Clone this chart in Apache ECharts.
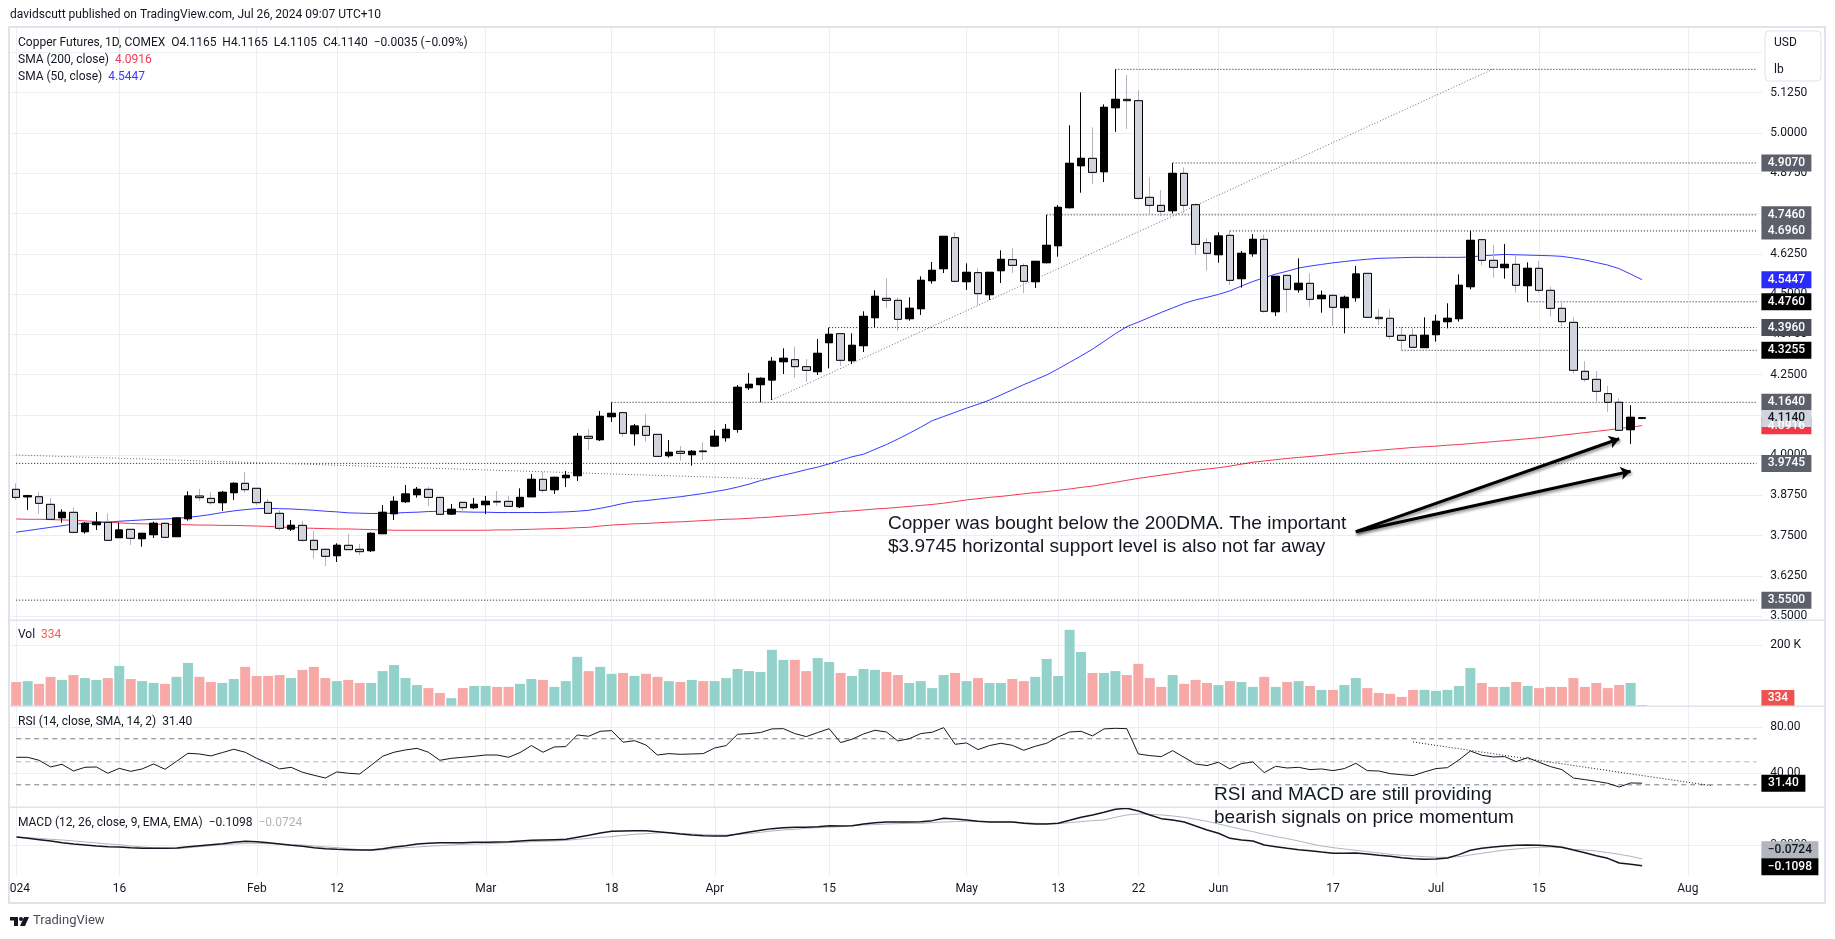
<!DOCTYPE html>
<html>
<head>
<meta charset="utf-8">
<style>html,body{margin:0;padding:0;background:#fff}#chart{width:1835px;height:939px}</style>
<script src="https://cdn.jsdelivr.net/npm/echarts@6/dist/echarts.min.js"></script>
</head>
<body>
<div id="chart"></div>
<script>
const dates = ['01-02','01-03','01-04','01-05','01-08','01-09','01-10','01-11','01-12','01-16','01-17','01-18','01-19','01-22','01-23','01-24','01-25','01-26','01-29','01-30','01-31',
  '02-01','02-02','02-05','02-06','02-07','02-08','02-09','02-12','02-13','02-14','02-15','02-16','02-20','02-21','02-22','02-23','02-26','02-27','02-28','02-29',
  '03-01','03-04','03-05','03-06','03-07','03-08','03-11','03-12','03-13','03-14','03-15','03-18','03-19','03-20','03-21','03-22','03-25','03-26','03-27','03-28',
  '04-01','04-02','04-03','04-04','04-05','04-08','04-09','04-10','04-11','04-12','04-15','04-16','04-17','04-18','04-19','04-22','04-23','04-24','04-25','04-26','04-29','04-30',
  '05-01','05-02','05-03','05-06','05-07','05-08','05-09','05-10','05-13','05-14','05-15','05-16','05-17','05-20','05-21','05-22','05-23','05-24','05-28','05-29','05-30','05-31',
  '06-03','06-04','06-05','06-06','06-07','06-10','06-11','06-12','06-13','06-14','06-17','06-18','06-20','06-21','06-24','06-25','06-26','06-27','06-28',
  '07-01','07-02','07-03','07-05','07-08','07-09','07-10','07-11','07-12','07-15','07-16','07-17','07-18','07-19','07-22','07-23','07-24','07-25','07-26','07-29','07-30','07-31',
  '08-01','08-02','08-05','08-06','08-07','08-08','08-09']
const timeTicks = {'01-02':'2024','01-16':'16','02-01':'Feb','02-12':'12','03-01':'Mar','03-18':'18','04-01':'Apr','04-15':'15','05-01':'May','05-13':'13','05-22':'22','06-03':'Jun','06-17':'17','07-01':'Jul','07-15':'15','08-01':'Aug'}

const open = [3.894,3.871,3.871,3.8474,3.806,3.8226,3.7626,3.7843,3.7915,3.744,
  3.7698,3.7409,3.7533,3.7885,3.7471,3.8029,3.8733,3.866,3.8526,3.8836,
  3.9126,3.8971,3.8536,3.8195,3.7709,3.7822,3.7357,3.7078,3.6881,3.7202,
  3.7078,3.7036,3.7564,3.8184,3.8557,3.8774,3.894,3.869,3.8174,3.8536,
  3.8371,3.8464,3.8567,3.8567,3.8402,3.871,3.925,3.8929,3.9302,3.9364,
  4.0585,4.0481,4.1195,4.132,4.0667,4.0895,4.0647,3.9985,4.0119,4.0016,
  4.013,4.0285,4.0543,4.0802,4.2095,4.2189,4.2333,4.2902,4.2964,4.2747,
  4.2592,4.3492,4.3771,4.2933,4.3399,4.4268,4.4868,4.4806,4.4237,4.4547,
  4.5416,4.5789,4.6751,4.5385,4.5665,4.4982,4.5727,4.6068,4.5882,4.5385,
  4.5975,4.6502,4.7682,4.8985,4.9213,4.8799,5.0785,5.1044,5.1003,4.8003,
  4.7754,4.7589,4.8747,4.7775,4.6596,4.6223,4.6823,4.5479,4.6254,4.6699,
  4.4454,4.5582,4.5137,4.5334,4.4858,4.4961,4.4579,4.4889,4.5644,4.4279,
  4.4248,4.372,4.372,4.3338,4.3741,4.4144,4.4237,4.523,4.6689,4.6048,
  4.582,4.5923,4.5261,4.5799,4.5117,4.4558,4.4123,4.2603,4.2354,4.191,
  4.1641,4.0792,4.1165]
const close = [3.869,3.874,3.8505,3.8009,3.8226,3.7605,3.7885,3.7915,3.7357,3.7678,
  3.7419,3.7574,3.7885,3.745,3.805,3.8733,3.8681,3.8526,3.8847,3.9126,
  3.8929,3.8526,3.8195,3.7729,3.7822,3.7357,3.7067,3.686,3.7202,3.7067,
  3.7005,3.7574,3.8226,3.8567,3.8795,3.894,3.869,3.8164,3.8319,3.8371,
  3.8474,3.8567,3.8547,3.8412,3.869,3.925,3.8909,3.9312,3.9374,4.0585,
  4.0523,4.1205,4.1298,4.0678,4.0905,4.0616,3.9964,4.0088,4.0057,4.0119,
  4.0109,4.0585,4.0802,4.2106,4.2199,4.2385,4.2913,4.3006,4.2747,4.2633,
  4.3161,4.3751,4.2944,4.3409,4.4309,4.493,4.4806,4.4216,4.4558,4.5427,
  4.5737,4.6792,4.5396,4.5675,4.5013,4.5675,4.6078,4.5892,4.5396,4.6016,
  4.6513,4.7692,4.9058,4.9213,4.8778,5.0796,5.1044,5.1003,4.7971,4.7754,
  4.7568,4.8747,4.7754,4.6544,4.6265,4.6803,4.5427,4.6265,4.6699,4.4465,
  4.5551,4.5148,4.5334,4.4837,4.4961,4.4589,4.4899,4.5623,4.4279,4.4237,
  4.3689,4.3565,4.3348,4.372,4.4154,4.4248,4.5272,4.6668,4.6048,4.583,
  4.5923,4.5272,4.5799,4.5117,4.4558,4.4144,4.2634,4.2354,4.1982,4.1641,
  4.0772,4.1175,4.114]
const high = [3.9126,3.877,3.8857,3.8671,3.8319,3.8381,3.7926,3.8236,3.8195,3.7905,
  3.7698,3.7574,3.7936,3.7926,3.8071,3.8878,3.895,3.8857,3.8888,3.9157,
  3.9478,3.8971,3.864,3.8298,3.7988,3.7957,3.7647,3.7109,3.7264,3.7553,
  3.7243,3.7605,3.8454,3.8722,3.9074,3.9012,3.9023,3.869,3.8484,3.8536,
  3.8671,3.8733,3.8888,3.8733,3.8971,3.9416,3.9488,3.9333,3.9509,4.0688,
  4.0812,4.1371,4.164,4.135,4.0968,4.1278,4.0647,4.0471,4.0285,4.0161,
  4.0399,4.0781,4.0968,4.2178,4.2551,4.2416,4.3047,4.3316,4.3368,4.2985,
  4.3606,4.396,4.3771,4.3782,4.4465,4.5116,4.5489,4.4899,4.4899,4.5551,
  4.5996,4.6792,4.6916,4.5954,4.5799,4.5675,4.6358,4.643,4.5954,4.6016,
  4.746,4.7765,5.0237,5.1261,5.0175,5.0889,5.1975,5.1799,5.1334,4.8623,
  4.823,4.907,4.8934,4.7816,4.673,4.6917,4.6968,4.6337,4.6865,4.6844,
  4.5551,4.5582,4.611,4.5644,4.5106,4.4961,4.4951,4.5872,4.5644,4.4527,
  4.4527,4.3989,4.3937,4.4279,4.4361,4.4713,4.5613,4.6968,4.6689,4.6523,
  4.6554,4.6213,4.5985,4.6027,4.523,4.4796,4.4279,4.2913,4.2613,4.2147,
  4.1765,4.1548,4.1165]
const low = [3.861,3.83,3.8174,3.7988,3.7905,3.7574,3.7564,3.7678,3.7347,3.7429,
  3.7212,3.716,3.7429,3.744,3.746,3.7967,3.8578,3.8464,3.8267,3.861,
  3.8836,3.8454,3.8174,3.7657,3.7647,3.7305,3.6788,3.656,3.6685,3.7057,
  3.6902,3.6995,3.7553,3.7988,3.8516,3.8681,3.8422,3.8153,3.8143,3.8195,
  3.8329,3.8174,3.8422,3.8391,3.836,3.8702,3.8826,3.8795,3.9012,3.9198,
  4.016,4.044,4.1029,4.0575,4.0295,4.0419,3.9954,3.9923,3.983,3.9674,
  3.985,4.0264,4.0419,4.0699,4.2023,4.164,4.1713,4.252,4.2396,4.2271,
  4.2489,4.2696,4.2768,4.283,4.3202,4.396,4.4558,4.3865,4.4175,4.4351,
  4.5323,4.5654,4.5385,4.5127,4.4661,4.4816,4.5344,4.5654,4.5033,4.5189,
  4.5954,4.6161,4.7661,4.8147,4.8416,4.8478,5.004,5.0123,4.792,4.746,
  4.7423,4.7506,4.7506,4.6223,4.5727,4.5975,4.5282,4.5199,4.6161,4.4423,
  4.432,4.4423,4.5044,4.461,4.4423,4.401,4.3782,4.4765,4.4279,4.4041,
  4.3596,4.3255,4.3348,4.3338,4.3523,4.3937,4.4144,4.5148,4.5892,4.551,
  4.5479,4.5044,4.476,4.5044,4.4299,4.401,4.2541,4.2282,4.163,4.1341,
  4.0772,4.0347,4.1105]
const sma200 = [3.802,3.801,3.801,3.8,3.799,3.798,3.796,3.794,3.792,3.79,
  3.788,3.787,3.786,3.785,3.785,3.784,3.783,3.783,3.782,3.782,
  3.781,3.78,3.779,3.777,3.776,3.774,3.773,3.772,3.771,3.771,
  3.77,3.769,3.768,3.767,3.767,3.767,3.767,3.767,3.767,3.767,
  3.767,3.767,3.768,3.768,3.769,3.77,3.771,3.772,3.773,3.775,
  3.776,3.78,3.783,3.785,3.787,3.788,3.79,3.792,3.793,3.795,
  3.797,3.799,3.801,3.802,3.804,3.806,3.808,3.811,3.813,3.816,
  3.819,3.822,3.825,3.827,3.83,3.833,3.835,3.838,3.841,3.844,
  3.847,3.851,3.856,3.861,3.865,3.869,3.872,3.876,3.88,3.884,
  3.887,3.891,3.895,3.9,3.904,3.91,3.916,3.922,3.928,3.933,
  3.938,3.943,3.948,3.953,3.957,3.961,3.966,3.972,3.978,3.982,
  3.986,3.99,3.993,3.996,3.999,4.003,4.006,4.009,4.012,4.015,
  4.018,4.021,4.024,4.026,4.028,4.031,4.033,4.036,4.039,4.042,
  4.045,4.048,4.051,4.054,4.058,4.062,4.066,4.07,4.074,4.078,
  4.083,4.087,4.0916]
const sma50 = [3.761,3.766,3.771,3.776,3.781,3.786,3.788,3.79,3.792,3.795,
  3.797,3.799,3.801,3.802,3.804,3.807,3.811,3.816,3.822,3.827,
  3.831,3.834,3.835,3.834,3.833,3.831,3.829,3.826,3.824,3.821,
  3.82,3.819,3.819,3.82,3.822,3.823,3.825,3.826,3.825,3.824,
  3.823,3.823,3.822,3.822,3.822,3.822,3.822,3.823,3.824,3.826,
  3.829,3.835,3.842,3.85,3.856,3.859,3.863,3.867,3.871,3.876,
  3.881,3.887,3.893,3.901,3.91,3.921,3.93,3.938,3.946,3.955,
  3.963,3.973,3.984,3.995,4.003,4.018,4.033,4.05,4.068,4.087,
  4.107,4.12,4.133,4.146,4.158,4.171,4.187,4.203,4.219,4.234,
  4.249,4.268,4.288,4.308,4.329,4.353,4.377,4.399,4.413,4.428,
  4.443,4.457,4.471,4.482,4.49,4.499,4.51,4.525,4.539,4.551,
  4.562,4.571,4.581,4.587,4.592,4.597,4.601,4.605,4.608,4.611,
  4.612,4.613,4.614,4.614,4.614,4.614,4.614,4.615,4.619,4.621,
  4.623,4.622,4.621,4.62,4.619,4.617,4.612,4.606,4.598,4.59,
  4.579,4.562,4.5447]
// volume in thousands of contracts
const volume = [79,82,73,96,86,102,92,86,92,132,89,82,76,73,96,142,96,79,76,89,
  129,99,99,102,92,119,129,92,82,86,76,76,115,135,92,69,59,43,26,59,
  66,66,63,63,73,89,86,63,82,162,115,129,106,109,99,106,96,82,79,86,
  82,82,92,122,115,112,185,152,152,115,158,145,109,99,122,119,112,102,76,82,
  59,102,109,82,92,76,76,89,82,96,155,99,251,178,109,109,115,102,139,92,
  63,102,73,86,76,69,82,79,63,96,63,79,82,66,53,53,69,92,59,43,
  40,30,53,53,50,53,66,125,76,63,63,79,66,59,63,63,92,63,76,59,
  69,76,0.334]
const rsi = [53.9,53.9,51.3,45.5,47.8,42,45.2,45.5,40,44.3,
  41.7,43.8,48.1,43.5,50.4,57.4,56.8,55.1,58,60.9,
  58.3,53,48.7,43.8,45.2,40.9,38.3,35.9,41.2,40,
  39.4,47,54.8,58.3,60.3,61.7,58.3,51.3,53,53.9,
  54.8,55.9,55.9,53.9,58,64.1,58.3,62.9,63.2,73.3,
  72.2,76.5,77.1,67,68.4,64.6,55.9,57.1,56.5,56.8,
  57.1,62,64.1,73.9,74.5,75.4,78.6,78.8,74.5,71.9,
  75.4,78.8,66.7,69.6,74.2,77.4,75.9,68.1,70.1,74.5,
  75.7,79.7,65.2,66.4,60.6,64.1,66.1,64.3,60,63.5,
  66.1,71.6,75.9,76.5,72.5,78.6,79.1,78.8,56.8,55.4,
  54.5,59.7,53.9,48.1,46.7,49.6,43.8,48.4,49.9,40.6,
  46.1,44.6,45.2,43.2,43.8,42.3,44.1,48.7,42.3,42,
  39.7,38.8,38,41.2,44.1,44.9,51.6,59.4,55.7,54.2,
  54.5,50.1,53.6,49.6,45.8,43.2,35.9,34.5,33,31.3,
  28.1,31.6,31.4]
const macd = [.0446,.0374,.0303,.0232,.0143,.0071,.0018,-.0036,-.0071,-.0089,
  -.0125,-.016,-.016,-.016,-.0143,-.0071,-.0018,.0036,.0089,.016,
  .0214,.0196,.0143,.0071,0,-.0053,-.0125,-.0178,-.0214,-.0232,
  -.025,-.025,-.0178,-.0089,-.0018,.0071,.0107,.0143,.0143,.0143,
  .016,.016,.0178,.0196,.0232,.0267,.0285,.0303,.0321,.0428,
  .0535,.066,.0749,.0767,.0785,.0785,.0731,.0678,.0606,.0553,
  .0517,.0499,.0499,.0606,.0713,.0802,.0892,.0945,.0963,.0963,
  .0998,.1052,.1034,.1052,.1141,.1212,.1248,.1248,.1248,.1266,
  .1319,.1444,.1409,.1355,.1284,.1248,.1248,.1248,.1177,.1141,
  .1141,.1177,.1337,.1498,.1623,.1765,.1926,.1979,.1836,.1623,
  .1426,.1355,.1248,.1034,.082,.0642,.0374,.0285,.0232,.0018,
  -.0071,-.016,-.0232,-.0285,-.0357,-.0428,-.0428,-.041,-.0464,-.0535,
  -.0588,-.066,-.0713,-.0749,-.0731,-.0678,-.0499,-.0267,-.016,-.0089,
  -.0036,0,.0018,0,-.0036,-.0107,-.025,-.0392,-.0553,-.0695,
  -.0945,-.1016,-.1098]
const signal = [.0446,.041,.0374,.0321,.0285,.0232,.0178,.0125,.0071,.0036,
  -.0036,-.0089,-.0143,-.016,-.0178,-.0125,-.0071,-.0018,.0036,.0071,
  .0107,.0107,.0089,.0071,.0036,.0018,-.0036,-.0089,-.0125,-.0178,
  -.0232,-.0267,-.0232,-.0178,-.0125,-.0089,-.0053,-.0018,.0018,.0053,
  .0071,.0089,.0107,.0143,.016,.0196,.0214,.0232,.0267,.0321,
  .0374,.0428,.0464,.0535,.0588,.0624,.066,.0678,.0642,.0606,
  .0571,.0553,.0553,.0588,.0624,.0695,.0767,.082,.0856,.0909,
  .0945,.0963,.0998,.1052,.1088,.1105,.1141,.1159,.1177,.1177,
  .1212,.1248,.1266,.1284,.1266,.1266,.1248,.1248,.1212,.1177,
  .1159,.1159,.1212,.1266,.1319,.1355,.1498,.1623,.1676,.1658,
  .1623,.1569,.1498,.1391,.1284,.1141,.0998,.0856,.0731,.0588,
  .0464,.0357,.0232,.0089,-.0036,-.0125,-.0196,-.0267,-.0339,-.041,
  -.0481,-.0535,-.0571,-.0606,-.0642,-.0642,-.0606,-.0517,-.0428,-.0339,
  -.025,-.0196,-.0143,-.0107,-.0089,-.0125,-.0214,-.025,-.0303,-.0392,
  -.0481,-.0588,-.0724]

// horizontal levels drawn on the price pane, with the bar each one starts from
const levelValues = [5.1975,4.907,4.746,4.696,4.476,4.396,4.3255,4.164,3.9745,3.55]
const levelStarts = [96,101,90,106,132,71,121,52,-0.5,-0.5]
const priceTicks = [3.5,3.625,3.75,3.875,4,4.125,4.25,4.375,4.5,4.625,4.75,4.875,5,5.125,5.25]
const priceTags = [4.907,4.746,4.696,4.5447,4.476,4.396,4.3255,3.9745,3.55,4.0916,4.164,4.114]

const TV_FONT = 'Roboto'
const GRID_COLOR = '#eceef4'
const TEXT_COLOR = '#131722'
const LAST = dates.length - 1
const END_X = LAST + 0.4
const panes = [
  { top: 27, height: 593 },
  { top: 620, height: 86 },
  { top: 706, height: 101 },
  { top: 807, height: 69 },
]
const isTick = (idx) => timeTicks[dates[idx]] !== undefined

const tagFill = { 4.5447: '#2a2aff', 4.476: '#000', 4.3255: '#000', 4.396: '#4a4d57', 4.0916: '#f23645', 4.114: '#d1d4dc' }
const tagMark = (value, text, fill, color, width, dy) => ({
  coord: [LAST, value],
  symbol: 'rect',
  symbolSize: [width, 17],
  symbolOffset: [width / 2 + 4.8, dy || 0],
  itemStyle: { color: fill },
  label: {
    show: true, position: 'inside', formatter: text, color,
    fontFamily: TV_FONT, fontSize: 12, fontWeight: 500,
  },
})

const xAxes = panes.map((p, i) => ({
  type: 'category',
  gridIndex: i,
  data: dates,
  axisLine: { show: false },
  axisTick: { show: false },
  splitLine: { show: true, interval: isTick, alignWithLabel: true, lineStyle: { color: GRID_COLOR, width: 1 } },
  axisLabel: i === 3
    ? { show: true, interval: isTick, formatter: (d) => timeTicks[d], color: TEXT_COLOR, fontFamily: TV_FONT, fontSize: 12, margin: 7 }
    : { show: false },
}))

const yAxis = (gridIndex, min, max, ticks, formatter) => ({
  type: 'value',
  gridIndex,
  position: 'right',
  min,
  max,
  scale: true,
  axisLine: { show: false },
  axisTick: { show: false, customValues: ticks },
  splitLine: { show: true, lineStyle: { color: GRID_COLOR, width: 1 } },
  axisLabel: { customValues: ticks, formatter, color: TEXT_COLOR, fontFamily: TV_FONT, fontSize: 12, margin: 8, showMinLabel: true, showMaxLabel: true },
})

const dotted = (xIndex, points, color, type) => ({
  type: 'line',
  xAxisIndex: xIndex,
  yAxisIndex: xIndex,
  data: points,
  showSymbol: false,
  silent: true,
  z: 2,
  lineStyle: { color, width: 1, type: type || [1, 2] },
})

const series = [
  {
    type: 'line', data: sma200, showSymbol: false, z: 1,
    lineStyle: { color: '#f23a54', width: 1 },
    markPoint: {
      z: 6,
      data: priceTags.map((v) => tagMark(v, v.toFixed(4), tagFill[v] || '#5d606b', v === 4.114 ? TEXT_COLOR : '#fff', 50)),
    },
  },
  { type: 'line', data: sma50, showSymbol: false, z: 1, lineStyle: { color: '#3a3aff', width: 1 } },
  // wicks first, so falling candles get a grey wick under a black-outlined body
  {
    type: 'candlestick', barWidth: 8, z: 3,
    data: dates.slice(0, open.length).map((d, i) => [open[i], close[i], low[i], high[i]]),
    itemStyle: { color: '#000', color0: '#d1d4dc', borderColor: '#000', borderColor0: '#b2b5be', borderWidth: 1 },
  },
  {
    type: 'candlestick', barWidth: 8, z: 4,
    data: dates.slice(0, open.length).map((d, i) => [open[i], close[i], Math.min(open[i], close[i]), Math.max(open[i], close[i])]),
    itemStyle: { color: '#000', color0: '#d1d4dc', borderColor: '#000', borderColor0: '#000', borderWidth: 1 },
  },
  ...levelValues.map((v, i) => dotted(0, [[levelStarts[i], v], [END_X, v]], '#131722')),
  // sloping trend lines on price
  dotted(0, [[-0.5, 4.0005], [65.8, 3.926]], '#6a6d78'),
  dotted(0, [[66, 4.1713], [128.9, 5.1986]], '#6a6d78'),
  {
    type: 'line', data: [], z: 7,
    markLine: {
      silent: true,
      symbol: ['none', 'arrow'],
      symbolSize: 10,
      lineStyle: { color: '#000', width: 3, type: 'solid', shadowColor: 'rgba(0,0,0,0.45)', shadowBlur: 3, shadowOffsetX: 1, shadowOffsetY: 2 },
      label: { show: false },
      data: [
        [{ coord: [117, 3.7625] }, { coord: [140, 4.051] }],
        [{ coord: [117, 3.7625] }, { coord: [141.3, 3.9503] }],
      ],
    },
  },
  {
    type: 'bar', xAxisIndex: 1, yAxisIndex: 1, barWidth: 10, barMinHeight: 1, z: 2,
    data: volume.map((v, i) => ({ value: v, itemStyle: { color: close[i] >= open[i] ? '#92d2ca' : '#f7a9a7' } })),
    markPoint: { z: 6, data: [tagMark(0.334, '334', '#ef5350', '#fff', 33, -7.5)] },
  },
  {
    type: 'line', xAxisIndex: 2, yAxisIndex: 2, data: rsi, showSymbol: false, z: 3,
    lineStyle: { color: '#131722', width: 1 },
    markPoint: { z: 6, data: [tagMark(31.4, '31.40', '#000', '#fff', 44)] },
  },
  dotted(2, [[-0.5, 70], [END_X, 70]], '#787b86', [5, 4]),
  dotted(2, [[-0.5, 50], [END_X, 50]], '#b2b5be', [5, 4]),
  dotted(2, [[-0.5, 30], [END_X, 30]], '#787b86', [5, 4]),
  dotted(2, [[121.8, 67.2], [147.8, 29.3]], '#131722'),
  { type: 'line', xAxisIndex: 3, yAxisIndex: 3, data: signal, showSymbol: false, z: 2, lineStyle: { color: '#b2b5be', width: 1 } },
  {
    type: 'line', xAxisIndex: 3, yAxisIndex: 3, data: macd, showSymbol: false, z: 3,
    lineStyle: { color: '#131722', width: 1.5 },
    markPoint: {
      z: 6,
      data: [
        tagMark(-0.0724, '\u22120.0724', '#b2b5be', TEXT_COLOR, 57, -9),
        tagMark(-0.1098, '\u22120.1098', '#000', '#fff', 57, 1),
      ],
    },
  },
]

const headerStyle = { fontFamily: TV_FONT, fontSize: 12, fontWeight: 'normal', color: TEXT_COLOR }
const header = (left, top, text, rich) => ({
  left, top, text, padding: 0,
  textStyle: { ...headerStyle, rich: rich || {} },
})
const coloured = (color) => ({ fontFamily: TV_FONT, fontSize: 12, color })

const chartEl = document.getElementById('chart')
const chart = echarts.init(chartEl, null, { renderer: 'canvas' })
const separator = (x, y, w, h) => ({ type: 'rect', shape: { x, y, width: w, height: h }, style: { fill: '#e0e3eb' }, z: 20, silent: true })
const note = (x, y, text) => ({
  type: 'text', x, y, z: 21, silent: true,
  style: { text, fontFamily: 'Liberation Sans', fontSize: 19, fill: TEXT_COLOR, textVerticalAlign: 'middle' },
})
chart.setOption({
  animation: false,
  backgroundColor: '#fff',
  grid: panes.map((p) => ({ left: 10.475, width: 1751.85, top: p.top, height: p.height, containLabel: false })),
  xAxis: xAxes,
  yAxis: [
    yAxis(0, 3.4884, 5.329, priceTicks, (v) => v.toFixed(4)),
    yAxis(1, 0, 283.4, [200], (v) => v + ' K'),
    yAxis(2, 10.7, 98.5, [40, 80], (v) => v.toFixed(2)),
    yAxis(3, -0.164, 0.2048, [0], (v) => v.toFixed(4)),
  ],
  title: [
    header(10, 9, 'davidscutt published on TradingView.com, Jul 26, 2024 09:07 UTC+10'),
    header(18, 37, 'Copper Futures, 1D, COMEX  O4.1165  H4.1165  L4.1105  C4.1140  \u22120.0035 (\u22120.09%)'),
    header(18, 54, 'SMA (200, close)  {r|4.0916}', { r: coloured('#f23a54') }),
    header(18, 71, 'SMA (50, close)  {b|4.5447}', { b: coloured('#3a3aff') }),
    header(18, 629, 'Vol  {r|334}', { r: coloured('#f0605a') }),
    header(18, 716, 'RSI (14, close, SMA, 14, 2)  31.40'),
    header(18, 817, 'MACD (12, 26, close, 9, EMA, EMA)  \u22120.1098  {g|\u22120.0724}', { g: coloured('#b2b5be') }),
  ],
  graphic: [
    separator(9, 26, 1816, 2),
    separator(9, 902, 1816, 2),
    separator(8, 26, 2, 878),
    separator(1824, 26, 2, 878),
    separator(9, 619.5, 1816, 1.5),
    separator(9, 705.5, 1816, 1.5),
    separator(9, 806.5, 1816, 1.5),
    { type: 'rect', shape: { x: 0, y: 880, width: 8, height: 20 }, style: { fill: '#fff' }, z: 19, silent: true },
    { type: 'rect', shape: { x: 1765, y: 31, width: 56, height: 50, r: 4 }, style: { fill: '#fff', stroke: '#e0e3eb', lineWidth: 1 }, z: 20, silent: true },
    { type: 'text', x: 1774, y: 37, z: 21, silent: true, style: { text: 'USD', fontFamily: TV_FONT, fontSize: 12, fill: TEXT_COLOR } },
    { type: 'text', x: 1774, y: 64, z: 21, silent: true, style: { text: 'lb', fontFamily: TV_FONT, fontSize: 12, fill: TEXT_COLOR } },
    note(888, 524, 'Copper was bought below the 200DMA. The important'),
    note(888, 547, '$3.9745 horizontal support level is also not far away'),
    note(1214, 795, 'RSI and MACD are still providing'),
    note(1214, 818, 'bearish signals on price momentum'),
    // TradingView mark
    { type: 'rect', shape: { x: 10, y: 917, width: 8, height: 3.5 }, style: { fill: TEXT_COLOR }, z: 21, silent: true },
    { type: 'rect', shape: { x: 14, y: 917, width: 4, height: 9 }, style: { fill: TEXT_COLOR }, z: 21, silent: true },
    { type: 'circle', shape: { cx: 21, cy: 919, r: 2 }, style: { fill: TEXT_COLOR }, z: 21, silent: true },
    { type: 'polygon', shape: { points: [[24, 917], [29, 917], [25, 926], [20, 926]] }, style: { fill: TEXT_COLOR }, z: 21, silent: true },
    { type: 'text', x: 33, y: 914, z: 21, silent: true, style: { text: 'TradingView', fontFamily: TV_FONT, fontSize: 13, fill: '#4a4d57' } },
  ],
  series,
})
</script>
</body>
</html>
